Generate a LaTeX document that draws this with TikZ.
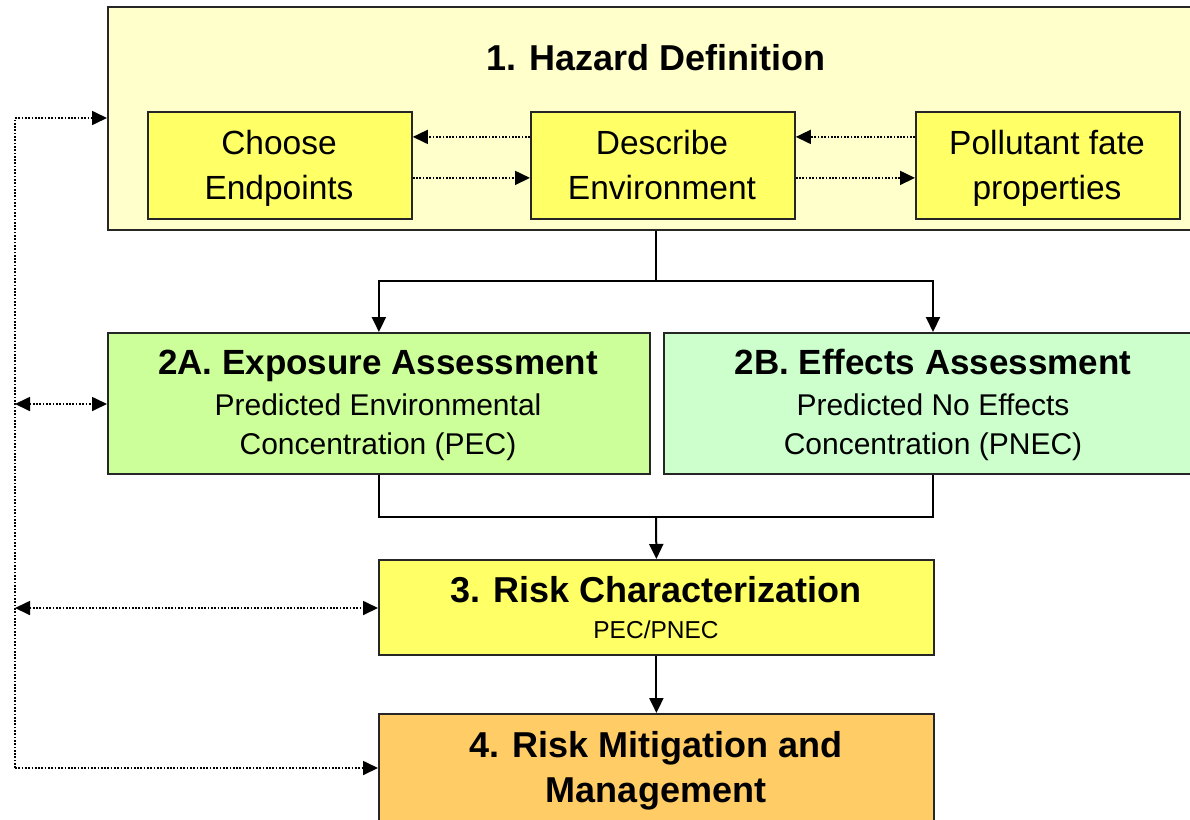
\documentclass[tikz,border=0pt]{standalone}
\usepackage{fontspec}
\setmainfont{Liberation Sans}
\usetikzlibrary{arrows.meta}
\definecolor{hazardbg}{HTML}{FFFFCC}
\definecolor{stepyellow}{HTML}{FFFF66}
\definecolor{exposurebg}{HTML}{CCFF99}
\definecolor{effectsbg}{HTML}{CCFFCC}
\definecolor{mitigationbg}{HTML}{FFCC66}
\begin{document}
\begin{tikzpicture}[x=1pt,y=-1pt,
  box/.style={draw=black!85,line width=1.8pt,inner sep=0pt,anchor=north west},
  conn/.style={draw=black,line width=2pt},
  tip/.style={Triangle[length=15pt,width=14pt]},
  arr/.style={conn,-{Triangle[length=15pt,width=14pt]}},
  dot/.style={draw=black,line width=1.7pt,dash pattern=on 1.7pt off 1.6pt},
  dotarr/.style={dot,-{Triangle[length=15pt,width=14pt]}},
  dotboth/.style={dot,{Triangle[length=15pt,width=14pt]}-{Triangle[length=15pt,width=14pt]}},
  head/.style={font=\fontsize{35}{40}\bfseries\selectfont,anchor=base,inner sep=0pt},
  bighead/.style={font=\fontsize{36}{40}\bfseries\selectfont,anchor=base,inner sep=0pt},
  body/.style={font=\fontsize{33.5}{38}\selectfont,anchor=base,inner sep=0pt},
  sub/.style={font=\fontsize{30}{36}\selectfont,anchor=base,inner sep=0pt},
  small/.style={font=\fontsize{24.5}{28}\selectfont,anchor=base,inner sep=0pt}]
\useasboundingbox (0,0) rectangle (1190,819);
\clip (0,0) rectangle (1190,819);

% boxes
\node[box,fill=hazardbg,minimum width=1100pt,minimum height=223pt] (hz) at (107,6) {};
\node[box,fill=stepyellow,minimum width=264pt,minimum height=107pt] (ce) at (147,111) {};
\node[box,fill=stepyellow,minimum width=264pt,minimum height=107pt] (de) at (530,111) {};
\node[box,fill=stepyellow,minimum width=264pt,minimum height=107pt] (pf) at (915,111) {};
\node[box,fill=exposurebg,minimum width=542pt,minimum height=141pt] (ex) at (107,332) {};
\node[box,fill=effectsbg,minimum width=560pt,minimum height=141pt] (ef) at (663,332) {};
\node[box,fill=stepyellow,minimum width=555pt,minimum height=95pt] (rc) at (378,559) {};
\node[box,fill=mitigationbg,minimum width=555pt,minimum height=130pt] (rm) at (378,713) {};

% texts
\node[bighead] (hzt) at (656,70) {1. Hazard Definition};
\node[body] (ce1) at (279,154) {Choose};
\node[body] (ce2) at (279,199) {Endpoints};
\node[body] (de1) at (662,154) {Describe};
\node[body] (de2) at (662,199) {Environment};
\node[body] (pf1) at (1047,154) {Pollutant fate};
\node[body] (pf2) at (1047,199) {properties};
\node[head] (ext) at (378,374) {2A. Exposure Assessment};
\node[sub] (ex1) at (378,415) {Predicted Environmental};
\node[sub] (ex2) at (378,454) {Concentration (PEC)};
\node[head] (eft) at (933,374) {2B. Effects Assessment};
\node[sub] (ef1) at (933,415) {Predicted No Effects};
\node[sub] (ef2) at (933,454) {Concentration (PNEC)};
\node[bighead] (rct) at (656,602) {3. Risk Characterization};
\node[small] (rc1) at (656,638) {PEC/PNEC};
\node[bighead] (rmt1) at (656,757) {4. Risk Mitigation and};
\node[bighead] (rmt2) at (656,802) {Management};

% links inside the hazard definition
\draw[dotarr] ([yshift=28.5pt]de.west) -- ([yshift=28.5pt]ce.east);
\draw[dotarr] ([yshift=-12.5pt]ce.east) -- ([yshift=-12.5pt]de.west);
\draw[dotarr] ([yshift=28.5pt]pf.west) -- ([yshift=28.5pt]de.east);
\draw[dotarr] ([yshift=-12.5pt]de.east) -- ([yshift=-12.5pt]pf.west);

% main flow
\coordinate (j1) at (656,281);
\coordinate (j2) at (656,517);
\draw[conn] (hz.south -| j1) -- (j1);
\draw[arr] (j1) -| (ex.north);
\draw[arr] (j1) -| (ef.north -| 933,0);
\draw[conn] (ex.south) |- (j2) -| (ef.south -| 933,0);
\draw[arr] (j2) -- (rc.north);
\draw[arr] (rc.south) -- (rm.north);

% feedback loop
\coordinate (fb1) at (15,118);
\coordinate (fb4) at (15,768);
\draw[dot] (fb4) -- (fb1);
\draw[dotarr] (fb1) -- (fb1 -| hz.west);
\draw[dotboth] (fb1 |- 0,404) -- (ex.west |- 0,404);
\draw[dotboth] (fb1 |- 0,608) -- (rc.west |- 0,608);
\draw[dotarr] (fb4) -- (fb4 -| rm.west);
\end{tikzpicture}
\end{document}
